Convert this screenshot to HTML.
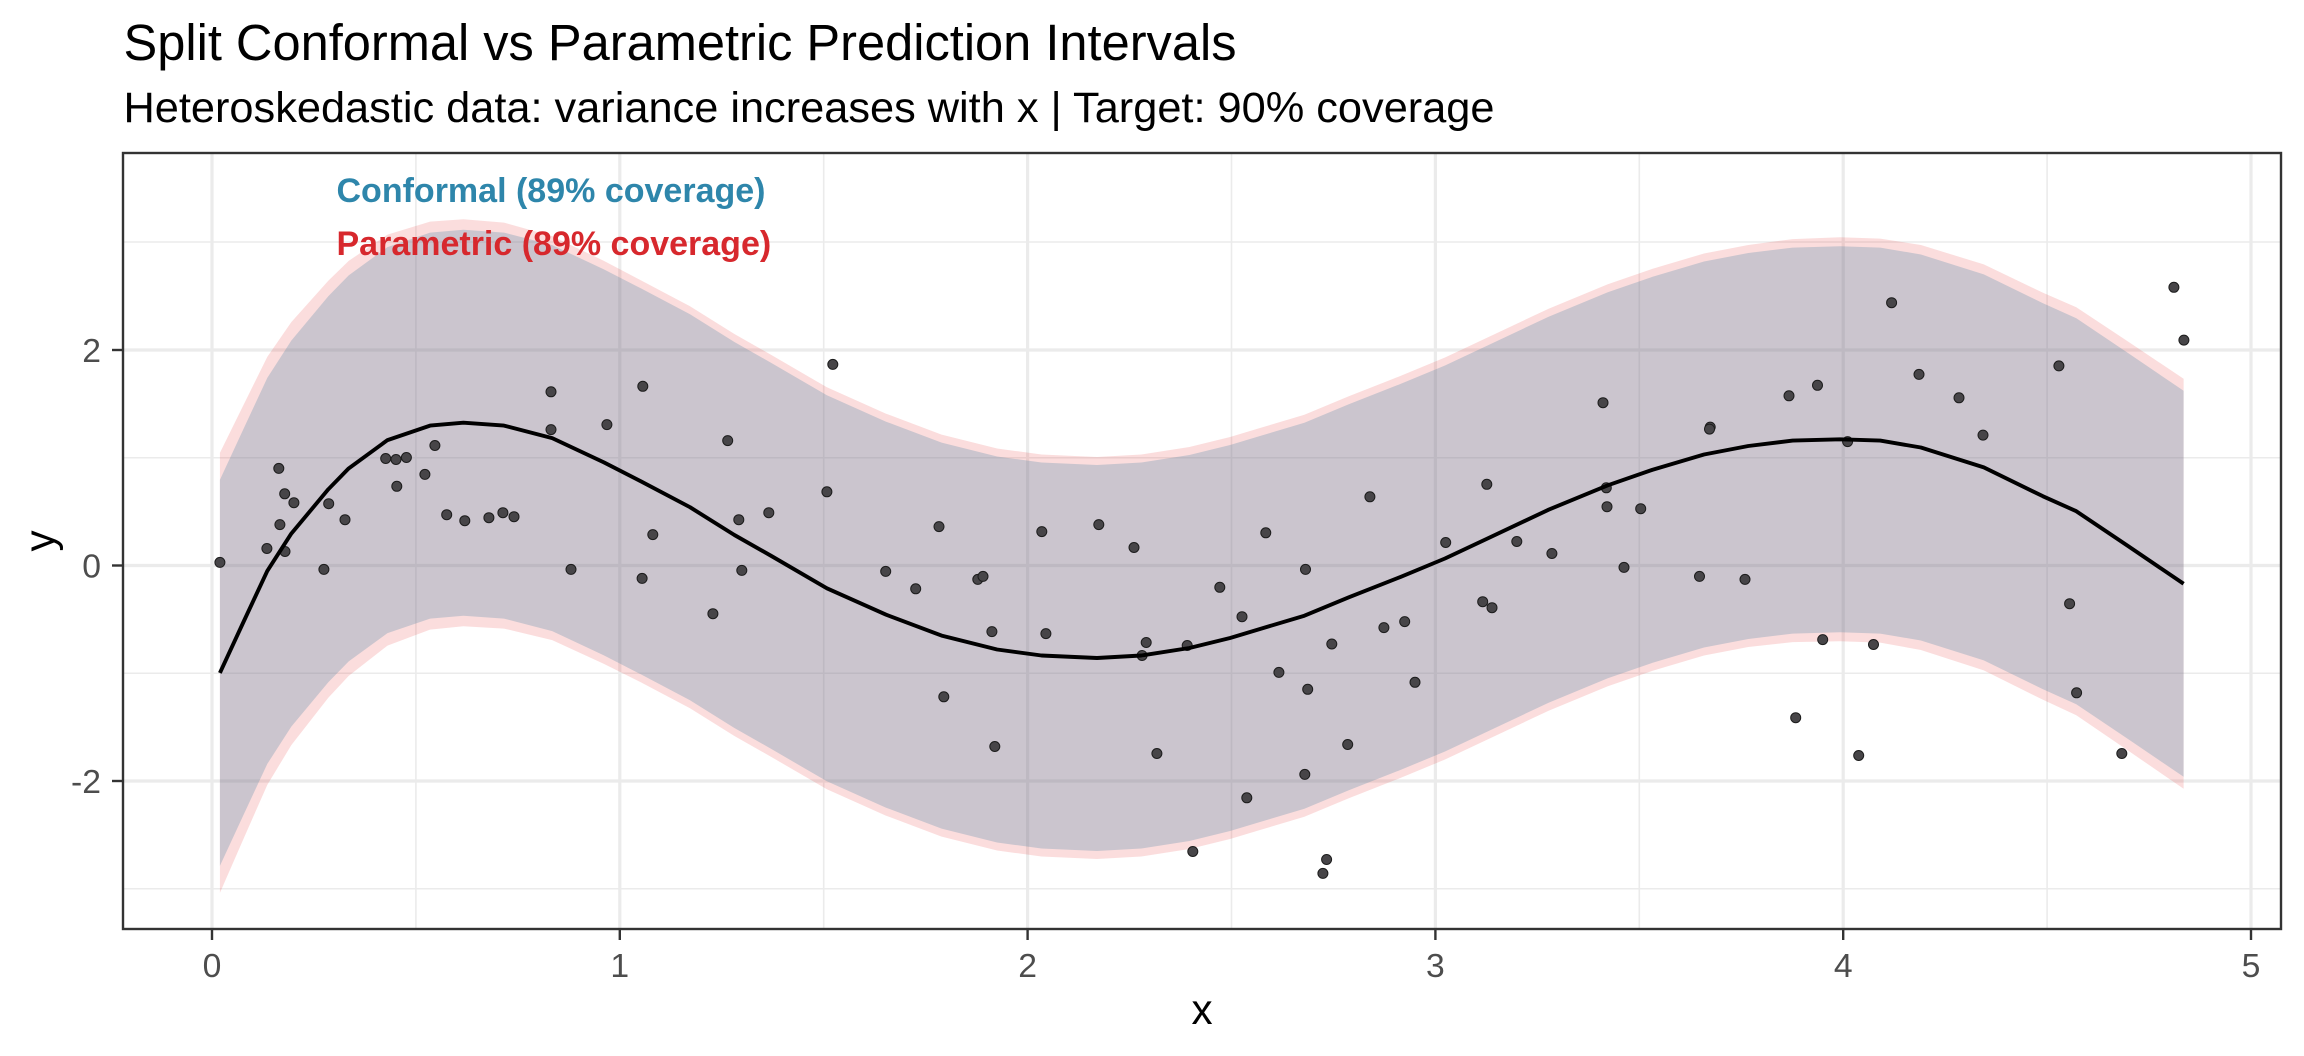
<!DOCTYPE html>
<html>
<head>
<meta charset="utf-8">
<style>
  html, body { margin: 0; padding: 0; background: #ffffff; }
  svg { display: block; }
  text { font-family: "Liberation Sans", Arial, sans-serif; }
</style>
</head>
<body>
<svg xmlns="http://www.w3.org/2000/svg" width="2304" height="1056" viewBox="0 0 2304 1056">
  <rect x="0" y="0" width="2304" height="1056" fill="#ffffff"/>

  <text x="123.5" y="60" font-size="50.6" fill="#000000" textLength="1113" lengthAdjust="spacingAndGlyphs">Split Conformal vs Parametric Prediction Intervals</text>
  <text x="123.5" y="122" font-size="42.5" fill="#000000" textLength="1371" lengthAdjust="spacingAndGlyphs">Heteroskedastic data: variance increases with x | Target: 90% coverage</text>

  <rect x="123" y="153" width="2158" height="776" fill="#ffffff"/>

  <g stroke="#EBEBEB" stroke-width="1.6">
    <line x1="415.9" y1="153" x2="415.9" y2="929"/>
    <line x1="823.7" y1="153" x2="823.7" y2="929"/>
    <line x1="1231.5" y1="153" x2="1231.5" y2="929"/>
    <line x1="1639.3" y1="153" x2="1639.3" y2="929"/>
    <line x1="2047.1" y1="153" x2="2047.1" y2="929"/>
    <line x1="123" y1="242" x2="2281" y2="242"/>
    <line x1="123" y1="457.75" x2="2281" y2="457.75"/>
    <line x1="123" y1="673.25" x2="2281" y2="673.25"/>
    <line x1="123" y1="888.75" x2="2281" y2="888.75"/>
  </g>
  <g stroke="#EBEBEB" stroke-width="3.2">
    <line x1="212" y1="153" x2="212" y2="929"/>
    <line x1="619.8" y1="153" x2="619.8" y2="929"/>
    <line x1="1027.6" y1="153" x2="1027.6" y2="929"/>
    <line x1="1435.4" y1="153" x2="1435.4" y2="929"/>
    <line x1="1843.2" y1="153" x2="1843.2" y2="929"/>
    <line x1="2251" y1="153" x2="2251" y2="929"/>
    <line x1="123" y1="350" x2="2281" y2="350"/>
    <line x1="123" y1="565.5" x2="2281" y2="565.5"/>
    <line x1="123" y1="781" x2="2281" y2="781"/>
  </g>

  <path fill="rgb(228,26,28)" fill-opacity="0.15" d="M219.9,452.9 L243,406 L267.3,356.9 L291.3,322.1 L328.3,280.8 L348.7,260.9 L387.5,234.6 L430.1,221.6 L463.4,219.2 L504,222.6 L552.2,236.1 L603.9,260.9 L641,280.4 L690,306.2 L734.4,334 L771.4,355 L826.9,387.3 L886.1,413.7 L941.6,434.6 L997.1,448.5 L1041.5,454.5 L1097,457 L1141.3,454.5 L1189.4,447 L1230.1,437 L1260,428 L1304.4,414.7 L1348.8,396.3 L1400.6,375.9 L1445,357.5 L1489.4,336.6 L1548.6,308.7 L1607.8,284.3 L1652.2,268.9 L1704,253.5 L1748.3,245 L1792.7,239.1 L1840,237.3 L1880.2,238.6 L1920.9,245 L1983.8,264.4 L2043,292.8 L2076.3,307.2 L2128,341.5 L2183.6,378.8 L2183.6,788.8 L2128,750.5 L2076.3,715.2 L2043,699.8 L1983.8,670.4 L1920.9,650 L1880.2,642.6 L1840,641.3 L1792.7,642.1 L1748.3,647 L1704,655.5 L1652.2,670.9 L1607.8,686.3 L1548.6,710.7 L1489.4,738.6 L1445,759.5 L1400.6,777.9 L1348.8,798.3 L1304.4,816.7 L1260,830 L1230.1,839 L1189.4,849 L1141.3,856.5 L1097,859 L1041.5,856.5 L997.1,850.5 L941.6,836.6 L886.1,815.7 L826.9,789.3 L771.4,757 L734.4,736 L690,708.2 L641,682.4 L603.9,663.9 L552.2,640.1 L504,628.6 L463.4,626.2 L430.1,629.6 L387.5,645.6 L348.7,675.9 L328.3,697.8 L291.3,745.1 L267.3,784.9 L243,840 L219.9,892.9 Z"/>

  <path fill="rgb(59,126,163)" fill-opacity="0.25" d="M219.9,479.9 L243,430 L267.3,377.9 L291.3,340.6 L328.3,296.3 L348.7,275.4 L387.5,247.1 L430.1,232.6 L463.4,229.7 L504,232.6 L552.2,245.1 L603.9,269.4 L641,288.4 L690,314.2 L734.4,342 L771.4,363 L826.9,395.3 L886.1,421.7 L941.6,442.6 L997.1,456.5 L1041.5,462.5 L1097,465 L1141.3,462.5 L1189.4,455 L1230.1,445 L1260,436 L1304.4,422.7 L1348.8,404.3 L1400.6,383.9 L1445,365.5 L1489.4,344.6 L1548.6,316.7 L1607.8,292.3 L1652.2,276.9 L1704,261.5 L1748.3,253 L1792.7,247.6 L1840,246.3 L1880.2,247.6 L1920.9,254.5 L1983.8,274.4 L2043,303.3 L2076.3,318.2 L2128,353 L2183.6,390.8 L2183.6,776.8 L2128,739 L2076.3,704.2 L2043,689.3 L1983.8,660.4 L1920.9,640.5 L1880.2,633.6 L1840,632.3 L1792.7,633.6 L1748.3,639 L1704,647.5 L1652.2,662.9 L1607.8,678.3 L1548.6,702.7 L1489.4,730.6 L1445,751.5 L1400.6,769.9 L1348.8,790.3 L1304.4,808.7 L1260,822 L1230.1,831 L1189.4,841 L1141.3,848.5 L1097,851 L1041.5,848.5 L997.1,842.5 L941.6,828.6 L886.1,807.7 L826.9,781.3 L771.4,749 L734.4,728 L690,700.2 L641,674.4 L603.9,655.4 L552.2,631.1 L504,618.6 L463.4,615.7 L430.1,618.6 L387.5,633.1 L348.7,661.4 L328.3,682.3 L291.3,726.6 L267.3,763.9 L243,816 L219.9,865.9 Z"/>

  <g fill="#474548" stroke="#1c1c1c" stroke-width="1">
    <circle cx="219.9" cy="562.4" r="5"/>
    <circle cx="266.9" cy="548.5" r="5"/>
    <circle cx="278.8" cy="468.4" r="5"/>
    <circle cx="284.7" cy="493.8" r="5"/>
    <circle cx="293.9" cy="502.7" r="5"/>
    <circle cx="279.9" cy="524.6" r="5"/>
    <circle cx="285.0" cy="551.5" r="5"/>
    <circle cx="328.7" cy="503.7" r="5"/>
    <circle cx="323.9" cy="569.4" r="5"/>
    <circle cx="345.0" cy="519.7" r="5"/>
    <circle cx="385.7" cy="458.5" r="5"/>
    <circle cx="396.0" cy="459.5" r="5"/>
    <circle cx="406.4" cy="457.5" r="5"/>
    <circle cx="396.8" cy="486.3" r="5"/>
    <circle cx="424.9" cy="474.4" r="5"/>
    <circle cx="434.9" cy="445.5" r="5"/>
    <circle cx="446.7" cy="514.7" r="5"/>
    <circle cx="464.8" cy="520.7" r="5"/>
    <circle cx="488.9" cy="517.7" r="5"/>
    <circle cx="502.9" cy="512.7" r="5"/>
    <circle cx="514.0" cy="516.7" r="5"/>
    <circle cx="551.0" cy="391.8" r="5"/>
    <circle cx="551.0" cy="429.6" r="5"/>
    <circle cx="606.9" cy="424.6" r="5"/>
    <circle cx="642.8" cy="386.3" r="5"/>
    <circle cx="571.0" cy="569.4" r="5"/>
    <circle cx="652.8" cy="534.6" r="5"/>
    <circle cx="642.1" cy="578.4" r="5"/>
    <circle cx="727.7" cy="440.6" r="5"/>
    <circle cx="832.8" cy="364.4" r="5"/>
    <circle cx="826.9" cy="491.8" r="5"/>
    <circle cx="738.8" cy="519.7" r="5"/>
    <circle cx="768.8" cy="512.7" r="5"/>
    <circle cx="741.8" cy="570.4" r="5"/>
    <circle cx="712.9" cy="613.7" r="5"/>
    <circle cx="885.7" cy="571.4" r="5"/>
    <circle cx="915.7" cy="588.8" r="5"/>
    <circle cx="939.0" cy="526.6" r="5"/>
    <circle cx="977.8" cy="579.4" r="5"/>
    <circle cx="983.0" cy="576.4" r="5"/>
    <circle cx="991.9" cy="631.6" r="5"/>
    <circle cx="943.8" cy="696.8" r="5"/>
    <circle cx="994.8" cy="746.5" r="5"/>
    <circle cx="1041.8" cy="531.6" r="5"/>
    <circle cx="1045.9" cy="633.6" r="5"/>
    <circle cx="1098.8" cy="524.6" r="5"/>
    <circle cx="1134.0" cy="547.5" r="5"/>
    <circle cx="1146.2" cy="642.5" r="5"/>
    <circle cx="1142.1" cy="655.5" r="5"/>
    <circle cx="1187.2" cy="645.5" r="5"/>
    <circle cx="1156.9" cy="753.5" r="5"/>
    <circle cx="1219.8" cy="587.3" r="5"/>
    <circle cx="1242.0" cy="616.7" r="5"/>
    <circle cx="1246.8" cy="797.8" r="5"/>
    <circle cx="1192.8" cy="851.5" r="5"/>
    <circle cx="1265.8" cy="532.8" r="5"/>
    <circle cx="1305.5" cy="569.4" r="5"/>
    <circle cx="1369.9" cy="496.8" r="5"/>
    <circle cx="1278.9" cy="672.4" r="5"/>
    <circle cx="1307.7" cy="689.3" r="5"/>
    <circle cx="1331.8" cy="644.0" r="5"/>
    <circle cx="1383.9" cy="627.6" r="5"/>
    <circle cx="1404.7" cy="621.6" r="5"/>
    <circle cx="1415.0" cy="682.3" r="5"/>
    <circle cx="1347.7" cy="744.5" r="5"/>
    <circle cx="1304.8" cy="774.4" r="5"/>
    <circle cx="1326.6" cy="859.5" r="5"/>
    <circle cx="1322.9" cy="873.4" r="5"/>
    <circle cx="1445.7" cy="542.5" r="5"/>
    <circle cx="1486.8" cy="484.3" r="5"/>
    <circle cx="1482.7" cy="601.7" r="5"/>
    <circle cx="1492.0" cy="607.7" r="5"/>
    <circle cx="1516.8" cy="541.5" r="5"/>
    <circle cx="1551.9" cy="553.5" r="5"/>
    <circle cx="1603.0" cy="402.7" r="5"/>
    <circle cx="1606.3" cy="487.8" r="5"/>
    <circle cx="1607.0" cy="506.7" r="5"/>
    <circle cx="1624.0" cy="567.4" r="5"/>
    <circle cx="1640.7" cy="508.7" r="5"/>
    <circle cx="1710.2" cy="427.1" r="5"/>
    <circle cx="1709.5" cy="429.1" r="5"/>
    <circle cx="1699.5" cy="576.4" r="5"/>
    <circle cx="1745.0" cy="579.4" r="5"/>
    <circle cx="1789.0" cy="395.8" r="5"/>
    <circle cx="1817.5" cy="385.3" r="5"/>
    <circle cx="1795.7" cy="717.7" r="5"/>
    <circle cx="1822.7" cy="639.6" r="5"/>
    <circle cx="1847.6" cy="441.6" r="5"/>
    <circle cx="1891.6" cy="302.7" r="5"/>
    <circle cx="1919.0" cy="374.4" r="5"/>
    <circle cx="1959.0" cy="397.8" r="5"/>
    <circle cx="1983.0" cy="435.1" r="5"/>
    <circle cx="2058.9" cy="365.9" r="5"/>
    <circle cx="2173.9" cy="287.3" r="5"/>
    <circle cx="2183.9" cy="340.1" r="5"/>
    <circle cx="1873.5" cy="644.5" r="5"/>
    <circle cx="1858.7" cy="755.5" r="5"/>
    <circle cx="2069.6" cy="603.7" r="5"/>
    <circle cx="2076.6" cy="692.8" r="5"/>
    <circle cx="2121.8" cy="753.5" r="5"/>
  </g>

  <polyline fill="none" stroke="#000000" stroke-width="3.9" stroke-linejoin="round" points="219.9,672.9 243,623 267.3,570.9 291.3,533.6 328.3,489.3 348.7,468.4 387.5,440.1 430.1,425.6 463.4,422.7 504,425.6 552.2,438.1 603.9,462.4 641,481.4 690,507.2 734.4,535 771.4,556 826.9,588.3 886.1,614.7 941.6,635.6 997.1,649.5 1041.5,655.5 1097,658 1141.3,655.5 1189.4,648 1230.1,638 1260,629 1304.4,615.7 1348.8,597.3 1400.6,576.9 1445,558.5 1489.4,537.6 1548.6,509.7 1607.8,485.3 1652.2,469.9 1704,454.5 1748.3,446 1792.7,440.6 1840,439.3 1880.2,440.6 1920.9,447.5 1983.8,467.4 2043,496.3 2076.3,511.2 2128,546 2183.6,583.8"/>

  <text x="336.5" y="202" font-size="34" font-weight="bold" fill="#2E86AB" textLength="429" lengthAdjust="spacingAndGlyphs">Conformal (89% coverage)</text>
  <text x="336.5" y="255" font-size="34" font-weight="bold" fill="#D7282D">Parametric (89% coverage)</text>

  <rect x="123" y="153" width="2158" height="776" fill="none" stroke="#333333" stroke-width="2.4"/>

  <g stroke="#333333" stroke-width="2.4">
    <line x1="112" y1="350" x2="123" y2="350"/>
    <line x1="112" y1="565.5" x2="123" y2="565.5"/>
    <line x1="112" y1="781" x2="123" y2="781"/>
    <line x1="212" y1="929" x2="212" y2="940"/>
    <line x1="619.8" y1="929" x2="619.8" y2="940"/>
    <line x1="1027.6" y1="929" x2="1027.6" y2="940"/>
    <line x1="1435.4" y1="929" x2="1435.4" y2="940"/>
    <line x1="1843.2" y1="929" x2="1843.2" y2="940"/>
    <line x1="2251" y1="929" x2="2251" y2="940"/>
  </g>

  <g font-size="33.7" fill="#4D4D4D" text-anchor="end">
    <text x="101" y="362">2</text>
    <text x="101" y="577.5">0</text>
    <text x="101" y="793">-2</text>
  </g>
  <g font-size="33.7" fill="#4D4D4D" text-anchor="middle">
    <text x="212" y="977">0</text>
    <text x="619.8" y="977">1</text>
    <text x="1027.6" y="977">2</text>
    <text x="1435.4" y="977">3</text>
    <text x="1843.2" y="977">4</text>
    <text x="2251" y="977">5</text>
  </g>

  <text x="1202" y="1024" font-size="42.2" fill="#000000" text-anchor="middle">x</text>
  <text transform="translate(54,541) rotate(-90)" x="0" y="0" font-size="42.2" fill="#000000" text-anchor="middle">y</text>
</svg>
</body>
</html>
